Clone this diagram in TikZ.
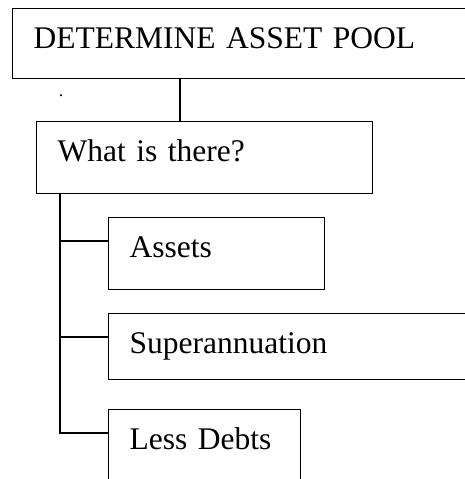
\documentclass[tikz,border=0pt]{standalone}
\usepackage{fontspec}
\setmainfont{Liberation Serif}
\usetikzlibrary{positioning}
\definecolor{LineBlack}{HTML}{000000}
\tikzset{
  stepbox/.style={draw=LineBlack, line width=1.2pt, fill=white, anchor=north west, align=left, inner xsep=21pt, inner ysep=0pt, text height=39.5pt, font=\fontsize{31.5}{36}\selectfont},
  link/.style={draw=LineBlack, line width=1.2pt}
}

\begin{document}
\begin{tikzpicture}[x=1pt, y=-1pt]
\useasboundingbox (0,0) rectangle (465,479);
\clip (0,0) rectangle (465,479);

\node[stepbox, text width=426pt, text depth=30.5pt] (pool) at (12,8) {DETERMINE ASSET POOL};
\node[font=\fontsize{18}{20}\selectfont, inner sep=0pt] (stray) at (61,96) {.};
\node[stepbox, text width=294pt, text depth=32.5pt] (there) at (36,121) {What is there?};

\node[stepbox, text width=174pt, text depth=32.5pt] (assets) at (108,217) {Assets};
\node[stepbox, text width=330pt, text depth=26.5pt] (super) at (108,313) {Superannuation};
\node[stepbox, text width=150pt, text depth=41.5pt] (debts) at (108,409) {Less Debts};

% drop and trunk
\coordinate (drop) at (180,100);
\coordinate (trunk) at (60,200);
\foreach \b in {assets, super, debts}
  \coordinate (\b-tap) at ([yshift=-24pt]\b.north west);
\draw[link] (drop |- pool.south) -- (drop |- there.north);
\draw[link] (trunk |- there.south) |- (debts-tap);
\foreach \b in {assets, super}
  \draw[link] (trunk |- \b-tap) -- (\b-tap);
\end{tikzpicture}
\end{document}
